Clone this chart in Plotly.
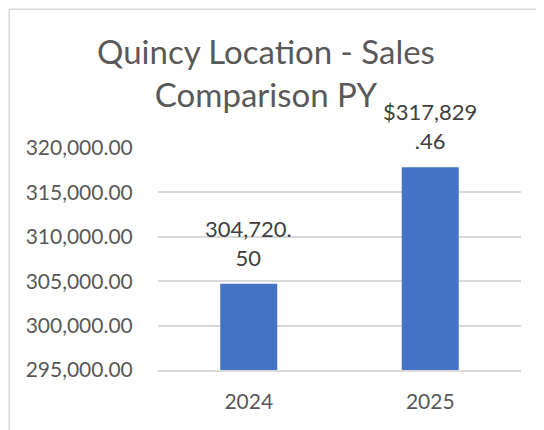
'''
    Bar chart comparing Quincy location sales with the previous year.
'''

import plotly.graph_objects as go

# Data
years = ['2024', '2025']
sales = [304720.50, 317829.46]
sales_labels = ['304,720.<br>50', '$317,829<br>.46']
y_ticks = [295000, 300000, 305000, 310000, 315000, 320000]

GRAY_TEXT = '#595959'
GRID = '#d9d9d9'
FONT = 'Lato'

fig = go.Figure()

fig.add_trace(go.Bar(
    x=years, y=sales,
    marker_color='#4472c4',
    marker_line_width=0,
    hoverinfo='x+y'))

# Data labels above each bar (category axis -> use the category index)
for i, (value, label) in enumerate(zip(sales, sales_labels)):
    fig.add_annotation(
        x=i, y=value, text=label, showarrow=False,
        yanchor='bottom', yshift=11,
        font=dict(family=FONT, size=22, color='#404040'))

# Title as a centred two-line annotation
fig.add_annotation(
    text='Quincy Location - Sales<br>Comparison PY',
    xref='paper', yref='paper', x=0.2975, y=1.34,
    xanchor='center', yanchor='middle', showarrow=False,
    font=dict(family=FONT, size=33, color=GRAY_TEXT))

# Light chart border (only the top/left edges are visible)
fig.add_shape(type='rect', xref='paper', yref='paper',
              x0=-0.41, x1=1.3, y0=-0.6, y1=1.625,
              line=dict(color=GRID, width=1.5), layer='below')

fig.update_layout(
    width=544, height=430,
    margin=dict(l=150, r=31, t=140, b=68),
    paper_bgcolor='white', plot_bgcolor='white',
    showlegend=False,
    bargap=0.686,
    font=dict(family=FONT, color=GRAY_TEXT),
)

fig.update_yaxes(range=[295000, 320000], tickvals=y_ticks,
                 tickformat=',.2f', showgrid=True, gridcolor=GRID,
                 gridwidth=1.5, zeroline=False, showline=False,
                 ticks='outside', ticklen=20, tickcolor='white',
                 tickfont=dict(family=FONT, size=21, color=GRAY_TEXT))
fig.update_xaxes(type='category', range=[-0.5, 1.5], showline=True,
                 linecolor=GRID, linewidth=1.5, ticks='outside',
                 ticklen=12, tickcolor='white',
                 tickfont=dict(family=FONT, size=21, color=GRAY_TEXT))

fig.write_html('out.html')
